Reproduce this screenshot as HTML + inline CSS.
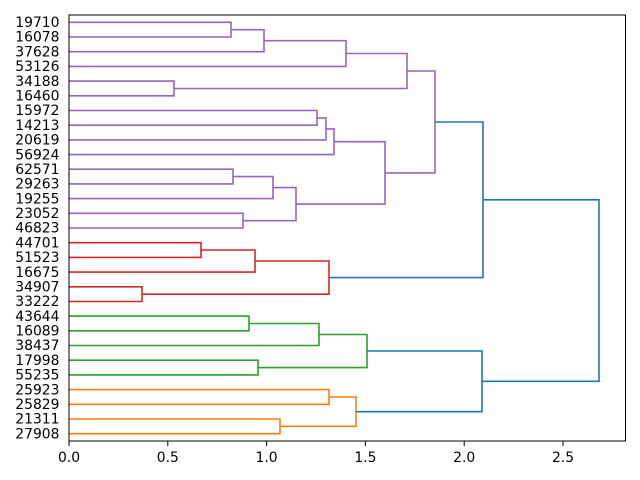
<!DOCTYPE html>
<html><head><meta charset="utf-8"><style>
html,body{margin:0;padding:0;background:#fff;}
svg{display:block;}
text{font-family:"DejaVu Sans","Liberation Sans",sans-serif;font-size:13.9px;fill:#000;}
</style></head><body>
<svg width="640" height="480" viewBox="0 0 640 480" xmlns="http://www.w3.org/2000/svg">
<g fill="none" stroke-width="1.6">
<g stroke="#9467bd">
<path d="M69 22.3H231V37H69"/>
<path d="M231 29.7H264V51.7H69"/>
<path d="M264 40.7H346V66.4H69"/>
<path d="M69 81.1H174V95.8H69"/>
<path d="M346 53.5H407V88.5H174"/>
<path d="M69 110.5H317V125.2H69"/>
<path d="M317 117.9H326V139.9H69"/>
<path d="M326 128.9H334V154.6H69"/>
<path d="M69 169.2H233V183.9H69"/>
<path d="M233 176.6H273V198.6H69"/>
<path d="M69 213.3H243V228H69"/>
<path d="M273 187.6H296V220.7H243"/>
<path d="M334 141.7H385V204.1H296"/>
<path d="M407 71H435V172.9H385"/>
</g>
<g stroke="#d62728">
<path d="M69 242.7H201V257.4H69"/>
<path d="M201 250H255V272.1H69"/>
<path d="M69 286.8H142V301.5H69"/>
<path d="M255 261H329V294.2H142"/>
</g>
<g stroke="#2ca02c">
<path d="M69 316.1H249V330.8H69"/>
<path d="M249 323.5H319V345.5H69"/>
<path d="M69 360.2H258V374.9H69"/>
<path d="M319 334.5H367V367.6H258"/>
</g>
<g stroke="#ff7f0e">
<path d="M69 389.6H329V404.3H69"/>
<path d="M69 419H280V433.7H69"/>
<path d="M329 397H356V426.3H280"/>
</g>
<g stroke="#1f77b4">
<path d="M435 122H483V277.6H329"/>
<path d="M367 351H482V411.7H356"/>
<path d="M483 199.8H599V381.3H482"/>
</g>
</g>
<rect x="69" y="15" width="556.5" height="426" fill="none" stroke="#000" stroke-width="1"/>
<g stroke="#000" stroke-width="1">
<path d="M69 441V446M167.8 441V446M266.6 441V446M365.4 441V446M464.2 441V446M563 441V446"/>
</g>
<g text-anchor="middle">
<text x="69" y="462">0.0</text>
<text x="167.8" y="462">0.5</text>
<text x="266.6" y="462">1.0</text>
<text x="365.4" y="462">1.5</text>
<text x="464.2" y="462">2.0</text>
<text x="563" y="462">2.5</text>
</g>
<g text-anchor="end">
<text x="59.5" y="27">19710</text>
<text x="59.5" y="41.7">16078</text>
<text x="59.5" y="56.4">37628</text>
<text x="59.5" y="71.1">53126</text>
<text x="59.5" y="85.8">34188</text>
<text x="59.5" y="100.5">16460</text>
<text x="59.5" y="115.2">15972</text>
<text x="59.5" y="129.9">14213</text>
<text x="59.5" y="144.6">20619</text>
<text x="59.5" y="159.3">56924</text>
<text x="59.5" y="173.9">62571</text>
<text x="59.5" y="188.6">29263</text>
<text x="59.5" y="203.3">19255</text>
<text x="59.5" y="218">23052</text>
<text x="59.5" y="232.7">46823</text>
<text x="59.5" y="247.4">44701</text>
<text x="59.5" y="262.1">51523</text>
<text x="59.5" y="276.8">16675</text>
<text x="59.5" y="291.5">34907</text>
<text x="59.5" y="306.2">33222</text>
<text x="59.5" y="320.8">43644</text>
<text x="59.5" y="335.5">16089</text>
<text x="59.5" y="350.2">38437</text>
<text x="59.5" y="364.9">17998</text>
<text x="59.5" y="379.6">55235</text>
<text x="59.5" y="394.3">25923</text>
<text x="59.5" y="409">25829</text>
<text x="59.5" y="423.7">21311</text>
<text x="59.5" y="438.4">27908</text>
</g>
</svg>
</body></html>
